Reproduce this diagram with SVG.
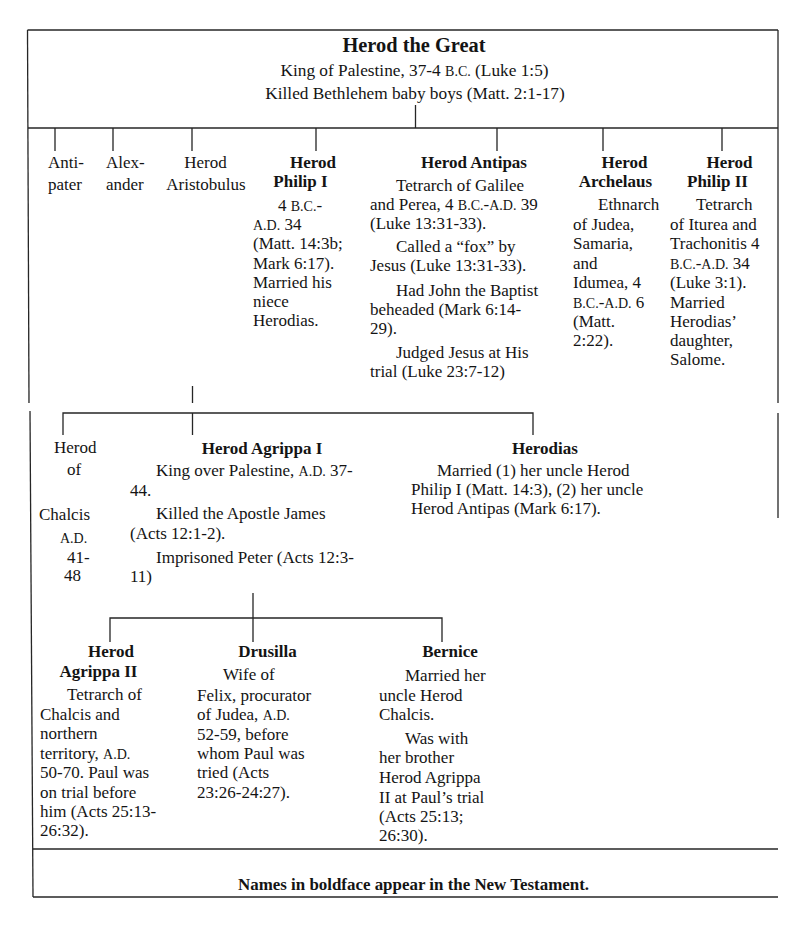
<svg xmlns="http://www.w3.org/2000/svg" width="800" height="925" viewBox="0 0 800 925">
<style>
.t{font-family:"Liberation Serif","Times New Roman",serif;font-size:17px;fill:#141414}
.b{font-weight:bold}
.c{text-anchor:middle}
.sc{font-size:14px}
.ln{stroke:#262626;stroke-width:1.3;fill:none}
</style>
<rect width="800" height="925" fill="#ffffff"/>
<g id="frame" class="ln">
<path d="M27.5 30 H778"/>
<path d="M27.5 30 L29 403"/>
<path d="M30 411 L33 897"/>
<path d="M778 30 V403"/>
<path d="M778 413 V518"/>
<path d="M28 128 H778"/>
<path d="M33 849 H778"/>
<path d="M33 897 H778"/>
</g>
<g id="connectors" class="ln">
<path d="M415.5 105 V128"/>
<path d="M55 128 V151 M113 128 V151 M192 128 V151 M316 128 V151 M497 128 V151 M603 128 V151 M722 128 V151"/>
<path d="M192.5 386 V403"/>
<path d="M63 435 V413 H533 V435 M192.5 413 V435"/>
<path d="M253 593 V618"/>
<path d="M110 642 V618 H442 V642 M253 618 V642"/>
</g>
<g id="herod-the-great" class="t">
<text class="b c" x="414" y="52" font-size="20.4">Herod the Great</text>
<text class="c" x="414.5" y="75.5" font-size="17.3">King of Palestine, 37-4 <tspan class="sc">B.C.</tspan> (Luke 1:5)</text>
<text class="c" x="415" y="98.5" font-size="17.3">Killed Bethlehem baby boys (Matt. 2:1-17)</text>
</g>
<g id="antipater" class="t">
<text x="48" y="167.5">Anti-</text>
<text x="48" y="189.5">pater</text>
</g>
<g id="alexander" class="t">
<text x="106" y="167.5">Alex-</text>
<text x="106" y="189.5">ander</text>
</g>
<g id="herod-aristobulus" class="t">
<text class="c" x="205.5" y="167.5">Herod</text>
<text class="c" x="206" y="189.5">Aristobulus</text>
</g>
<g id="herod-philip-1" class="t">
<text class="b c" x="313" y="167.5">Herod</text>
<text class="b c" x="300.5" y="186.5">Philip I</text>
<text x="278" y="210.5">4 <tspan class="sc">B.C.</tspan>-</text>
<text x="253" y="229.5"><tspan class="sc">A.D.</tspan> 34</text>
<text x="253" y="249">(Matt. 14:3b;</text>
<text x="253" y="268.5">Mark 6:17).</text>
<text x="253" y="287.5">Married his</text>
<text x="253" y="307">niece</text>
<text x="253" y="325.5">Herodias.</text>
</g>
<g id="herod-antipas" class="t">
<text class="b c" x="474" y="167.5">Herod Antipas</text>
<text x="396" y="190.5">Tetrarch of Galilee</text>
<text x="370" y="209.5">and Perea, 4 <tspan class="sc">B.C.</tspan>-<tspan class="sc">A.D.</tspan> 39</text>
<text x="370" y="228.5">(Luke 13:31-33).</text>
<text x="396" y="251.5">Called a “fox” by</text>
<text x="370" y="270.5">Jesus (Luke 13:31-33).</text>
<text x="396" y="296">Had John the Baptist</text>
<text x="370" y="315">beheaded (Mark 6:14-</text>
<text x="370" y="334">29).</text>
<text x="396" y="358">Judged Jesus at His</text>
<text x="370" y="377">trial (Luke 23:7-12)</text>
</g>
<g id="herod-archelaus" class="t">
<text class="b c" x="624.5" y="167.5">Herod</text>
<text class="b c" x="615.5" y="186.5">Archelaus</text>
<text x="598" y="209.5">Ethnarch</text>
<text x="573" y="229.5">of Judea,</text>
<text x="573" y="248.5">Samaria,</text>
<text x="573" y="268.5">and</text>
<text x="573" y="287.5">Idumea, 4</text>
<text x="573" y="307.5"><tspan class="sc">B.C.</tspan>-<tspan class="sc">A.D.</tspan> 6</text>
<text x="573" y="326.5">(Matt.</text>
<text x="573" y="345.5">2:22).</text>
</g>
<g id="herod-philip-2" class="t">
<text class="b c" x="729.5" y="167.5">Herod</text>
<text class="b c" x="717.5" y="186.5">Philip II</text>
<text x="696" y="209.5">Tetrarch</text>
<text x="670" y="229.5">of Iturea and</text>
<text x="670" y="248.5">Trachonitis 4</text>
<text x="670" y="268.5"><tspan class="sc">B.C.</tspan>-<tspan class="sc">A.D.</tspan> 34</text>
<text x="670" y="287.5">(Luke 3:1).</text>
<text x="670" y="307.5">Married</text>
<text x="670" y="326.5">Herodias’</text>
<text x="670" y="345.5">daughter,</text>
<text x="670" y="364.5">Salome.</text>
</g>
<g id="herod-of-chalcis" class="t">
<text x="54" y="452.5">Herod</text>
<text x="67" y="474.5">of</text>
<text x="39" y="519.5">Chalcis</text>
<text x="60" y="542.5"><tspan class="sc">A.D.</tspan></text>
<text x="67" y="562.5">41-</text>
<text x="64" y="580.5">48</text>
</g>
<g id="herod-agrippa-1" class="t">
<text class="b c" x="262" y="453.5">Herod Agrippa I</text>
<text x="156" y="475.5">King over Palestine, <tspan class="sc">A.D.</tspan> 37-</text>
<text x="130" y="495.5">44.</text>
<text x="156" y="518.5">Killed the Apostle James</text>
<text x="130" y="538.5">(Acts 12:1-2).</text>
<text x="156" y="562.5">Imprisoned Peter (Acts 12:3-</text>
<text x="130" y="581.5">11)</text>
</g>
<g id="herodias" class="t">
<text class="b c" x="545" y="453.5">Herodias</text>
<text x="437" y="475.5">Married (1) her uncle Herod</text>
<text x="411" y="495">Philip I (Matt. 14:3), (2) her uncle</text>
<text x="411" y="514">Herod Antipas (Mark 6:17).</text>
</g>
<g id="herod-agrippa-2" class="t">
<text class="b c" x="111" y="656.5">Herod</text>
<text class="b c" x="98.5" y="676.5">Agrippa II</text>
<text x="67" y="699.5">Tetrarch of</text>
<text x="40" y="719.5">Chalcis and</text>
<text x="40" y="739">northern</text>
<text x="40" y="758.5">territory, <tspan class="sc">A.D.</tspan></text>
<text x="40" y="778">50-70. Paul was</text>
<text x="40" y="797.5">on trial before</text>
<text x="40" y="816.5">him (Acts 25:13-</text>
<text x="40" y="836">26:32).</text>
</g>
<g id="drusilla" class="t">
<text class="b c" x="267.5" y="656.5">Drusilla</text>
<text x="223" y="679.5">Wife of</text>
<text x="197" y="700.5">Felix, procurator</text>
<text x="197" y="720">of Judea, <tspan class="sc">A.D.</tspan></text>
<text x="197" y="739.5">52-59, before</text>
<text x="197" y="758.5">whom Paul was</text>
<text x="197" y="778">tried (Acts</text>
<text x="197" y="798">23:26-24:27).</text>
</g>
<g id="bernice" class="t">
<text class="b c" x="450" y="656.5">Bernice</text>
<text x="405" y="681">Married her</text>
<text x="379" y="700.5">uncle Herod</text>
<text x="379" y="720">Chalcis.</text>
<text x="405" y="743.5">Was with</text>
<text x="379" y="763">her brother</text>
<text x="379" y="782.5">Herod Agrippa</text>
<text x="379" y="802.5">II at Paul’s trial</text>
<text x="379" y="822">(Acts 25:13;</text>
<text x="379" y="841">26:30).</text>
</g>
<g id="footnote" class="t">
<text class="b c" x="413.5" y="889.5" font-size="16.5" textLength="351" lengthAdjust="spacingAndGlyphs">Names in boldface appear in the New Testament.</text>
</g>
</svg>
